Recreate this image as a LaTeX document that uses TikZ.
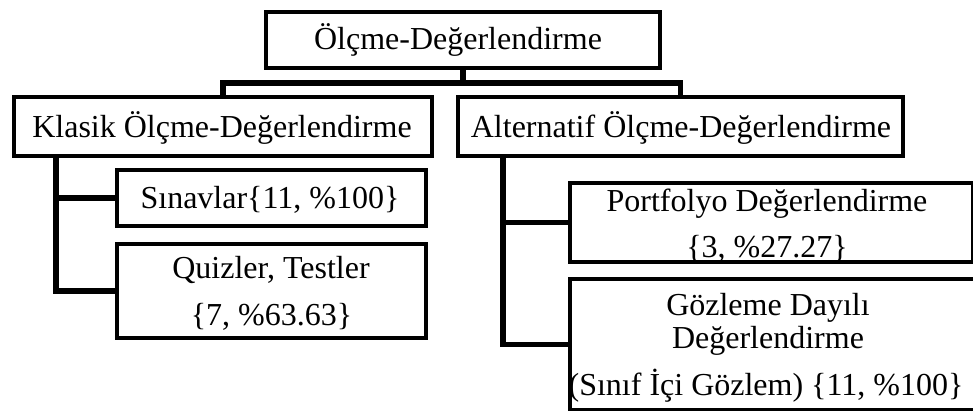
\documentclass[tikz,border=0pt]{standalone}
\usepackage{fontspec}
\setmainfont{Liberation Serif}
\begin{document}
\begin{tikzpicture}[x=0.75pt,y=-0.75pt,
  box/.style={draw=black, line width=3.6pt, fill=white, inner sep=0pt},
  sized/.style 2 args={minimum width={#1*0.75pt}, minimum height={#2*0.75pt}},
  lbl/.style={inner sep=0pt, anchor=base, font=\fontsize{24pt}{35pt}\selectfont},
  link/.style={draw=black, line width=3.8pt}]
\useasboundingbox (0,0) rectangle (973,410);
\clip (0,0) rectangle (973,410);

% boxes
\node[box, sized={394}{56}] (top) at (463,40) {};
\node[box, sized={418}{59}] (klasik) at (223,126.5) {};
\node[box, sized={445}{59}] (alt) at (680.5,126.5) {};
\node[box, sized={309}{56}] (sinav) at (271.5,198) {};
\node[box, sized={309}{94}] (quiz) at (271.5,291) {};
\node[box, sized={403}{79}] (port) at (771.5,222.5) {};
\node[box, sized={415}{131}] (goz) at (777.5,344.5) {};

% connectors
\coordinate (bus) at (463,83);
\coordinate (kt) at (56,156);
\coordinate (at) at (503,156);
\draw[link] (top.south) -- (bus);
\draw[link] (klasik.north) |- (bus) -| (alt.north);
\draw[link] (kt) |- (quiz.west);
\draw[link] (kt |- sinav.west) -- (sinav.west);
\draw[link] (at) |- (goz.west);
\draw[link] (at |- port.west) -- (port.west);

% texts
\node[lbl] (topT) at (458,50) {Ölçme-Değerlendirme};
\node[lbl] (klasikT) at (222,137) {Klasik Ölçme-Değerlendirme};
\node[lbl] (altT) at (681,137) {Alternatif Ölçme-Değerlendirme};
\node[lbl] (sinavT) at (270,208) {Sınavlar\{11, \%100\}};
\node[lbl] (quizT1) at (271,278) {Quizler, Testler};
\node[lbl] (quizT2) at (271.5,325) {\{7, \%63.63\}};
\node[lbl] (portT1) at (767,211) {Portfolyo Değerlendirme};
\node[lbl] (portT2) at (767,257) {\{3, \%27.27\}};
\node[lbl] (gozT1) at (768,315) {Gözleme Dayılı};
\node[lbl] (gozT2) at (768,348) {Değerlendirme};
\node[lbl] (gozT3) at (766,395) {(Sınıf İçi Gözlem) \{11, \%100\}};
\end{tikzpicture}
\end{document}
